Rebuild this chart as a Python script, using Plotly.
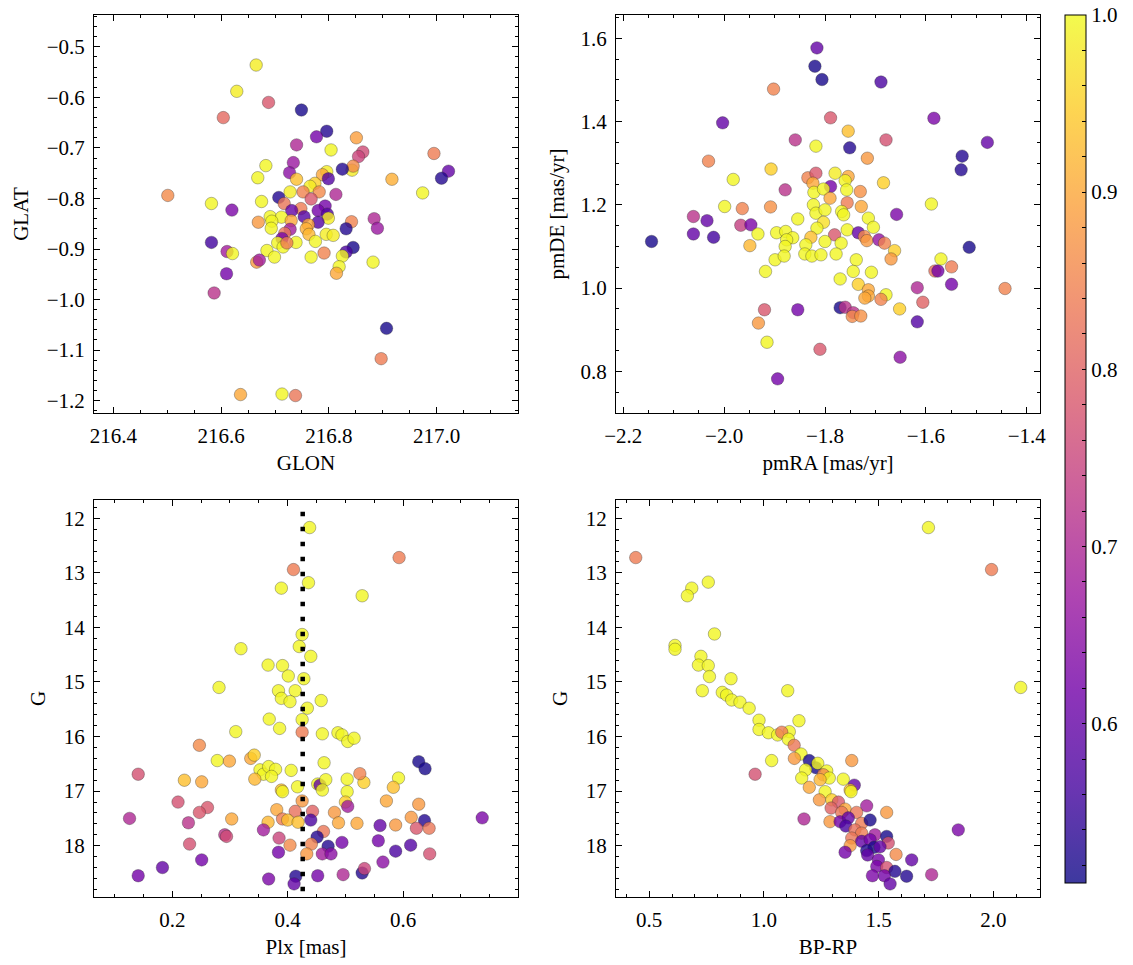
import plotly.graph_objects as go

# ---------------- data ----------------
GLON = [216.665, 216.629, 216.688, 216.604, 216.749, 216.796, 216.777, 216.851, 216.740, 216.804,
        216.863, 216.855, 216.995, 216.734, 216.683, 216.727, 216.668, 216.843, 216.845, 216.825,
        216.796, 216.788, 216.799, 217.022, 217.009, 216.917, 216.740, 216.774, 216.765, 216.974,
        216.501, 216.728, 216.752, 216.782, 216.707, 216.767, 216.813, 216.675, 216.582, 216.717,
        216.620, 216.748, 216.731, 216.793, 216.780, 216.797, 216.754, 216.691, 216.712, 216.694,
        216.669, 216.730, 216.799, 216.780, 216.762, 216.758, 216.842, 216.884, 216.890, 216.832,
        216.693, 216.728, 216.718, 216.763, 216.795, 216.808, 216.713, 216.705, 216.715, 216.739,
        216.722, 216.775, 216.582, 216.845, 216.832, 216.611, 216.621, 216.685, 216.699, 216.791,
        216.767, 216.825, 216.882, 216.666, 216.671, 216.819, 216.814, 216.610, 216.587, 216.907,
        216.897, 216.636, 216.713, 216.738]
GLAT = [-0.536, -0.588, -0.610, -0.640, -0.625, -0.667, -0.678, -0.680, -0.694, -0.704,
        -0.708, -0.717, -0.711, -0.729, -0.735, -0.749, -0.759, -0.744, -0.736, -0.742,
        -0.747, -0.753, -0.761, -0.746, -0.760, -0.762, -0.762, -0.770, -0.776, -0.789,
        -0.794, -0.787, -0.787, -0.787, -0.798, -0.801, -0.792, -0.806, -0.810, -0.810,
        -0.823, -0.820, -0.824, -0.815, -0.824, -0.831, -0.836, -0.836, -0.837, -0.845,
        -0.847, -0.844, -0.839, -0.847, -0.852, -0.860, -0.846, -0.840, -0.859, -0.860,
        -0.859, -0.861, -0.869, -0.871, -0.871, -0.873, -0.879, -0.888, -0.896, -0.887,
        -0.888, -0.885, -0.887, -0.897, -0.906, -0.905, -0.909, -0.903, -0.916, -0.908,
        -0.916, -0.914, -0.926, -0.926, -0.922, -0.935, -0.948, -0.949, -0.987, -1.057,
        -1.117, -1.188, -1.187, -1.190]
P_SKY = [0.985, 0.985, 0.78, 0.81, 0.52, 0.53, 0.62, 0.89, 0.70, 0.995,
         0.76, 0.75, 0.84, 0.67, 0.995, 0.65, 0.995, 0.985, 0.86, 0.53,
         0.985, 0.90, 0.58, 0.60, 0.53, 0.91, 0.93, 0.95, 0.985, 0.995,
         0.86, 0.985, 0.85, 0.86, 0.53, 0.78, 0.70, 0.995, 0.995, 0.83,
         0.63, 0.84, 0.60, 0.62, 0.62, 0.58, 0.58, 0.995, 0.995, 0.995,
         0.88, 0.90, 0.985, 0.58, 0.90, 0.91, 0.85, 0.70, 0.67, 0.53,
         0.995, 0.68, 0.83, 0.92, 0.985, 0.985, 0.62, 0.995, 0.995, 0.995,
         0.84, 0.995, 0.56, 0.52, 0.57, 0.68, 0.995, 0.995, 0.995, 0.85,
         0.995, 0.995, 0.995, 0.88, 0.68, 0.995, 0.90, 0.62, 0.72, 0.52,
         0.84, 0.90, 0.995, 0.83]

PMRA = [-1.816, -1.820, -1.806, -1.689, -1.902, -1.584, -1.789, -2.003, -1.754, -1.859,
        -1.679, -1.478, -1.818, -1.751, -1.716, -1.528, -1.530, -2.031, -1.907, -1.982,
        -1.834, -1.818, -1.824, -1.780, -1.754, -1.760, -1.684, -1.789, -1.879, -1.822,
        -1.803, -1.757, -1.730, -1.790, -1.756, -1.589, -1.999, -1.964, -1.908, -1.823,
        -1.728, -1.658, -2.061, -2.034, -1.818, -1.800, -1.767, -1.763, -1.854, -1.714,
        -1.704, -1.967, -1.947, -1.933, -2.061, -2.021, -2.144, -1.803, -1.816, -1.756,
        -1.781, -1.734, -1.722, -1.717, -1.693, -1.682, -1.896, -1.878, -1.864, -1.876,
        -1.828, -1.800, -1.768, -1.949, -1.879, -1.838, -1.662, -1.669, -1.514, -1.899,
        -1.881, -1.840, -1.826, -1.808, -1.778, -1.738, -1.570, -1.582, -1.576, -1.549,
        -1.918, -1.744, -1.708, -1.770, -1.734, -1.714, -1.714, -1.721, -1.679, -1.689,
        -1.617, -1.549, -1.443, -1.606, -1.652, -1.770, -1.760, -1.744, -1.746, -1.729,
        -1.854, -1.920, -1.932, -1.617, -1.915, -1.810, -1.651, -1.894]
PMDE = [1.577, 1.533, 1.501, 1.495, 1.478, 1.408, 1.409, 1.397, 1.377, 1.356,
        1.356, 1.350, 1.341, 1.337, 1.312, 1.317, 1.284, 1.305, 1.286, 1.261,
        1.265, 1.276, 1.252, 1.276, 1.268, 1.258, 1.253, 1.244, 1.236, 1.230,
        1.238, 1.236, 1.232, 1.216, 1.205, 1.202, 1.196, 1.191, 1.195, 1.200,
        1.196, 1.177, 1.172, 1.162, 1.180, 1.188, 1.184, 1.176, 1.166, 1.168,
        1.146, 1.151, 1.152, 1.130, 1.130, 1.122, 1.112, 1.158, 1.144, 1.140,
        1.128, 1.133, 1.124, 1.114, 1.116, 1.108, 1.133, 1.136, 1.121, 1.116,
        1.122, 1.112, 1.108, 1.102, 1.100, 1.104, 1.090, 1.070, 1.098, 1.068,
        1.077, 1.082, 1.077, 1.080, 1.082, 1.068, 1.070, 1.041, 1.041, 1.051,
        1.040, 1.040, 1.038, 1.022, 1.009, 0.996, 0.981, 0.976, 0.984, 0.973,
        1.001, 1.009, 0.999, 0.966, 0.950, 0.953, 0.954, 0.941, 0.932, 0.933,
        0.948, 0.948, 0.916, 0.919, 0.870, 0.853, 0.834, 0.782]
P_PM = [0.60, 0.52, 0.52, 0.57, 0.85, 0.63, 0.78, 0.60, 0.93, 0.72,
        0.77, 0.60, 0.995, 0.53, 0.88, 0.53, 0.53, 0.85, 0.95, 0.995,
        0.85, 0.78, 0.90, 0.985, 0.90, 0.995, 0.95, 0.62, 0.72, 0.995,
        0.995, 0.995, 0.87, 0.90, 0.84, 0.995, 0.995, 0.85, 0.87, 0.995,
        0.90, 0.63, 0.72, 0.60, 0.995, 0.995, 0.995, 0.995, 0.995, 0.995,
        0.995, 0.74, 0.63, 0.995, 0.60, 0.56, 0.52, 0.97, 0.995, 0.995,
        0.78, 0.60, 0.86, 0.88, 0.66, 0.85, 0.995, 0.995, 0.995, 0.995,
        0.93, 0.995, 0.995, 0.92, 0.995, 0.995, 0.95, 0.88, 0.52, 0.995,
        0.995, 0.995, 0.995, 0.995, 0.995, 0.995, 0.995, 0.82, 0.62, 0.84,
        0.995, 0.995, 0.995, 0.995, 0.95, 0.90, 0.90, 0.90, 0.995, 0.85,
        0.70, 0.62, 0.85, 0.80, 0.95, 0.52, 0.72, 0.72, 0.86, 0.87,
        0.62, 0.78, 0.88, 0.58, 0.995, 0.78, 0.65, 0.62]

PLX = [0.438, 0.593, 0.410, 0.436, 0.389, 0.529, 0.425, 0.420, 0.440, 0.319,
       0.366, 0.391, 0.401, 0.428, 0.281, 0.384, 0.413, 0.389, 0.404, 0.458,
       0.434, 0.368, 0.425, 0.386, 0.310, 0.425, 0.460, 0.487, 0.494, 0.504,
       0.515, 0.247, 0.278, 0.299, 0.336, 0.342, 0.352, 0.358, 0.367, 0.379,
       0.372, 0.406, 0.343, 0.463, 0.627, 0.638, 0.141, 0.221, 0.251, 0.452,
       0.456, 0.466, 0.460, 0.503, 0.532, 0.525, 0.592, 0.583, 0.417, 0.389,
       0.391, 0.503, 0.500, 0.425, 0.571, 0.627, 0.504, 0.210, 0.261, 0.247,
       0.126, 0.228, 0.303, 0.381, 0.413, 0.443, 0.481, 0.391, 0.400, 0.418,
       0.366, 0.440, 0.488, 0.520, 0.560, 0.587, 0.614, 0.637, 0.623, 0.645,
       0.737, 0.358, 0.291, 0.294, 0.385, 0.462, 0.451, 0.230, 0.404, 0.441,
       0.470, 0.494, 0.557, 0.613, 0.587, 0.384, 0.433, 0.460, 0.475, 0.646,
       0.251, 0.183, 0.141, 0.367, 0.414, 0.411, 0.452, 0.496, 0.529, 0.533,
       0.565]
G_PLX = [12.17, 12.72, 12.94, 13.18, 13.28, 13.42, 14.13, 14.35, 14.53, 14.39,
         14.69, 14.70, 14.89, 14.94, 15.10, 15.16, 15.16, 15.30, 15.36, 15.34,
         15.48, 15.68, 15.69, 15.85, 15.91, 15.92, 15.95, 15.93, 15.97, 16.09,
         16.03, 16.16, 16.44, 16.45, 16.40, 16.34, 16.61, 16.69, 16.55, 16.60,
         16.73, 16.62, 16.78, 16.48, 16.46, 16.59, 16.69, 16.80, 16.83, 16.87,
         16.89, 16.79, 16.98, 16.78, 16.84, 16.68, 16.76, 16.93, 16.92, 16.98,
         17.01, 17.01, 17.20, 17.18, 17.18, 17.24, 17.28, 17.20, 17.30, 17.39,
         17.50, 17.58, 17.51, 17.34, 17.37, 17.37, 17.39, 17.51, 17.53, 17.57,
         17.57, 17.53, 17.58, 17.59, 17.63, 17.62, 17.48, 17.54, 17.68, 17.68,
         17.49, 17.71, 17.80, 17.83, 17.86, 17.74, 17.84, 17.97, 17.99, 17.97,
         18.01, 17.94, 17.91, 17.99, 18.10, 18.12, 18.15, 18.15, 18.15, 18.15,
         18.26, 18.40, 18.55, 18.61, 18.56, 18.70, 18.55, 18.53, 18.50, 18.42,
         18.30]
P_PLX = [0.995, 0.84, 0.84, 0.995, 0.995, 0.995, 0.995, 0.995, 0.995, 0.995,
         0.995, 0.995, 0.995, 0.995, 0.995, 0.995, 0.995, 0.995, 0.995, 0.995,
         0.995, 0.995, 0.995, 0.995, 0.995, 0.84, 0.995, 0.995, 0.995, 0.995,
         0.995, 0.86, 0.995, 0.90, 0.90, 0.95, 0.995, 0.995, 0.995, 0.995,
         0.995, 0.995, 0.92, 0.995, 0.52, 0.52, 0.77, 0.93, 0.90, 0.995,
         0.60, 0.995, 0.995, 0.995, 0.95, 0.85, 0.995, 0.93, 0.995, 0.93,
         0.995, 0.995, 0.95, 0.88, 0.90, 0.88, 0.68, 0.77, 0.78, 0.78,
         0.70, 0.72, 0.90, 0.90, 0.82, 0.80, 0.88, 0.84, 0.93, 0.93,
         0.92, 0.57, 0.90, 0.90, 0.60, 0.88, 0.88, 0.53, 0.78, 0.83,
         0.63, 0.68, 0.72, 0.76, 0.75, 0.83, 0.53, 0.77, 0.86, 0.85,
         0.53, 0.62, 0.62, 0.58, 0.57, 0.62, 0.88, 0.68, 0.65, 0.77,
         0.62, 0.60, 0.62, 0.63, 0.53, 0.60, 0.62, 0.70, 0.53, 0.75,
         0.65]

BPRP = [1.717, 0.442, 1.992, 0.758, 0.686, 0.667, 0.785, 0.613, 0.613, 0.726,
        0.715, 0.758, 0.763, 0.857, 2.119, 0.732, 1.104, 0.819, 0.838, 0.860,
        0.896, 0.936, 0.979, 1.153, 0.979, 1.020, 1.060, 1.111, 1.078, 1.107,
        1.132, 1.162, 1.034, 1.133, 1.383, 1.198, 1.226, 1.235, 1.182, 1.274,
        1.259, 0.962, 1.165, 1.285, 1.245, 1.346, 1.394, 1.198, 1.267, 1.376,
        1.380, 1.242, 1.296, 1.325, 1.293, 1.354, 1.448, 1.339, 1.404, 1.535,
        1.175, 1.288, 1.332, 1.368, 1.357, 1.426, 1.463, 1.397, 1.426, 1.383,
        1.847, 1.484, 1.426, 1.463, 1.535, 1.542, 1.480, 1.448, 1.376, 1.506,
        1.354, 1.576, 1.452, 1.644, 1.499, 1.492, 1.535, 1.571, 1.473, 1.525,
        1.622, 1.731, 1.550]
G_CMD = [12.17, 12.72, 12.94, 13.17, 13.28, 13.42, 14.12, 14.33, 14.40, 14.53,
         14.69, 14.70, 14.90, 14.94, 15.10, 15.16, 15.16, 15.19, 15.24, 15.33,
         15.37, 15.48, 15.70, 15.71, 15.87, 15.93, 15.97, 15.91, 15.92, 16.05,
         16.16, 16.32, 16.44, 16.40, 16.44, 16.44, 16.57, 16.49, 16.61, 16.63,
         16.70, 16.69, 16.76, 16.76, 16.79, 16.78, 16.89, 16.93, 17.01, 16.98,
         17.01, 17.16, 17.16, 17.20, 17.31, 17.33, 17.27, 17.39, 17.39, 17.39,
         17.51, 17.56, 17.56, 17.49, 17.64, 17.59, 17.53, 17.71, 17.77, 17.86,
         17.71, 17.80, 17.92, 17.89, 17.83, 17.95, 18.03, 18.09, 18.00, 18.02,
         18.12, 18.16, 18.17, 18.26, 18.26, 18.38, 18.40, 18.47, 18.55, 18.55,
         18.56, 18.53, 18.70]
P_CMD = [0.995, 0.84, 0.84, 0.995, 0.995, 0.995, 0.995, 0.995, 0.995, 0.995,
         0.995, 0.995, 0.995, 0.995, 0.995, 0.995, 0.995, 0.995, 0.995, 0.995,
         0.995, 0.995, 0.995, 0.995, 0.995, 0.995, 0.995, 0.995, 0.84, 0.995,
         0.83, 0.995, 0.995, 0.88, 0.88, 0.52, 0.52, 0.995, 0.995, 0.995,
         0.86, 0.77, 0.995, 0.995, 0.92, 0.995, 0.60, 0.90, 0.995, 0.93,
         0.995, 0.88, 0.95, 0.78, 0.80, 0.90, 0.68, 0.83, 0.83, 0.88,
         0.70, 0.88, 0.62, 0.60, 0.57, 0.84, 0.52, 0.82, 0.84, 0.83,
         0.63, 0.68, 0.60, 0.62, 0.52, 0.77, 0.52, 0.53, 0.88, 0.60,
         0.62, 0.86, 0.60, 0.60, 0.62, 0.63, 0.77, 0.53, 0.63, 0.62,
         0.53, 0.70, 0.60]

PLX_MEAN = [0.426, 0.426]
PLX_LINE_G = [11.88, 19.2]

P_MIN, P_MAX = 0.51, 1.0
CBAR_TICKS = [0.52, 0.54, 0.56, 0.58, 0.60, 0.62, 0.64, 0.66, 0.68, 0.70, 0.72, 0.74, 0.76,
              0.78, 0.80, 0.82, 0.84, 0.86, 0.88, 0.90, 0.92, 0.94, 0.96, 0.98, 1.00]
CBAR_LABELS = ["" if round(v * 100) % 10 else f"{v:.1f}" for v in CBAR_TICKS]

# ---------------- style ----------------
FONT = "Liberation Serif"
FS = 21
plasma = ['#0d0887', '#46039f', '#7201a8', '#9c179e', '#bd3786',
          '#d8576b', '#ed7953', '#fb9f3a', '#fdca26', '#f0f921']


def rgba(h, a=0.8):
    h = h.lstrip('#')
    return f"rgba({int(h[0:2], 16)},{int(h[2:4], 16)},{int(h[4:6], 16)},{a})"


cscale = [[i / (len(plasma) - 1), rgba(c)] for i, c in enumerate(plasma)]

W, H = 1133, 965


def xdom(l, r):
    return [l / W, r / W]


def ydom(t, b):
    return [1 - b / H, 1 - t / H]


def axis(rng, dtick, minor, tick0, fmt, title, dom, anchor, standoff=8):
    return dict(
        domain=dom, anchor=anchor, range=rng, automargin=False,
        ticks='inside', ticklen=6, tickwidth=1, tickcolor='black',
        showline=True, linecolor='black', linewidth=1, mirror='ticks',
        showgrid=False, zeroline=False,
        tick0=tick0, dtick=dtick, tickformat=fmt,
        minor=dict(ticks='inside', ticklen=3, tickwidth=1, tickcolor='black',
                   dtick=minor, tick0=tick0, showgrid=False),
        tickfont=dict(family=FONT, size=FS, color='black'),
        title=dict(text=title, font=dict(family=FONT, size=FS, color='black'), standoff=standoff),
        ticklabelstandoff=4,
    )


fig = go.Figure()

marker_line = dict(color='rgba(40,40,40,0.55)', width=0.6)


def add(x, y, p, xa, ya):
    fig.add_trace(go.Scatter(
        x=x, y=y, mode='markers', xaxis=xa, yaxis=ya, showlegend=False,
        marker=dict(size=12.5, color=p, coloraxis='coloraxis', line=marker_line),
        hoverinfo='skip'))


add(GLON, GLAT, P_SKY, 'x', 'y')
add(PMRA, PMDE, P_PM, 'x2', 'y2')
add(PLX, G_PLX, P_PLX, 'x3', 'y3')
add(BPRP, G_CMD, P_CMD, 'x4', 'y4')

fig.add_trace(go.Scatter(
    x=PLX_MEAN, y=PLX_LINE_G, mode='lines', xaxis='x3', yaxis='y3', showlegend=False,
    line=dict(color='black', width=4.5, dash='4.5px,10.5px'), hoverinfo='skip'))

top = (15, 413)
bot = (500, 897)
left = (94, 518)
right = (616, 1040)

fig.update_layout(
    template='none',
    width=W, height=H,
    margin=dict(l=0, r=0, t=0, b=0, pad=0),
    paper_bgcolor='white', plot_bgcolor='white',
    font=dict(family=FONT, size=FS, color='black'),
    xaxis=axis([216.364, 217.151], 0.2, 0.05, 216.4, '.1f', 'GLON', xdom(*left), 'y'),
    yaxis=axis([-1.2245, -0.437], 0.1, 0.02, -0.5, '.1f', 'GLAT', ydom(*top), 'x', standoff=12),
    xaxis2=axis([-2.2145, -1.3736], 0.2, 0.05, -2.2, '.1f', 'pmRA [mas/yr]', xdom(*right), 'y2'),
    yaxis2=axis([0.70, 1.656], 0.2, 0.05, 0.8, '.1f', 'pmDE [mas/yr]', ydom(*top), 'x2', standoff=10),
    xaxis3=axis([0.0644, 0.799], 0.2, 0.05, 0.2, '.1f', 'Plx [mas]', xdom(*left), 'y3'),
    yaxis3=axis([18.94, 11.665], 1, 0.2, 12, 'd', 'G', ydom(*bot), 'x3', standoff=12),
    xaxis4=axis([0.356, 2.203], 0.5, 0.1, 0.5, '.1f', 'BP-RP', xdom(*right), 'y4'),
    yaxis4=axis([18.94, 11.665], 1, 0.2, 12, 'd', 'G', ydom(*bot), 'x4', standoff=12),
    coloraxis=dict(
        colorscale=cscale, cmin=P_MIN, cmax=P_MAX,
        colorbar=dict(
            x=1065 / W, xanchor='left', xpad=0, ypad=0,
            y=1 - 15 / H, yanchor='top', len=(883 - 15) / H, lenmode='fraction',
            thickness=21, thicknessmode='pixels',
            outlinewidth=1, outlinecolor='black',
            ticks='inside', ticklen=4, tickwidth=1, tickcolor='black',
            tickmode='array', tickvals=CBAR_TICKS, ticktext=CBAR_LABELS,
            tickfont=dict(family=FONT, size=FS, color='black'),
        ),
    ),
)

fig.write_html("out.html")
